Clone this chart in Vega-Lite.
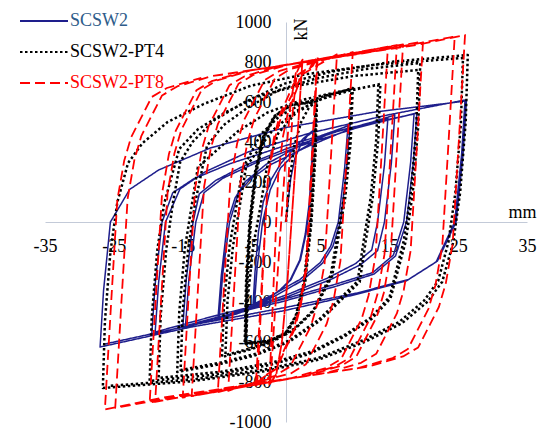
{
"$schema":"https://vega.github.io/schema/vega-lite/v6.json",
"width":482,"height":400,
"autosize":{"type":"none"},
"padding":{"left":45,"top":22,"right":12,"bottom":8},
"background":"white",
"config":{"view":{"stroke":null},"font":"Liberation Serif","axis":{"labelFont":"Liberation Serif","titleFont":"Liberation Serif"},"legend":{"labelFont":"Liberation Serif"}},
"data":{"values":[
{"s":"SCSW2","x":0,"y":0},{"s":"SCSW2","x":0.3,"y":100},{"s":"SCSW2","x":0.7,"y":220},{"s":"SCSW2","x":1.3,"y":320},{"s":"SCSW2","x":2.2,"y":390},{"s":"SCSW2","x":3.1,"y":430},{"s":"SCSW2","x":3.9,"y":450},
{"s":"SCSW2","x":3.7,"y":280},{"s":"SCSW2","x":3.4,"y":100},{"s":"SCSW2","x":2.8,"y":-60},{"s":"SCSW2","x":2.0,"y":-190},{"s":"SCSW2","x":0.6,"y":-290},{"s":"SCSW2","x":-0.9,"y":-340},{"s":"SCSW2","x":-2.8,"y":-390},{"s":"SCSW2","x":-4.8,"y":-420},
{"s":"SCSW2","x":-4.5,"y":-250},{"s":"SCSW2","x":-4.0,"y":-50},{"s":"SCSW2","x":-3.3,"y":100},{"s":"SCSW2","x":-2.2,"y":210},{"s":"SCSW2","x":-0.8,"y":290},{"s":"SCSW2","x":1.0,"y":360},{"s":"SCSW2","x":2.6,"y":420},{"s":"SCSW2","x":4.0,"y":460},
{"s":"SCSW2","x":3.8,"y":280},{"s":"SCSW2","x":3.5,"y":100},{"s":"SCSW2","x":2.9,"y":-60},{"s":"SCSW2","x":2.1,"y":-190},{"s":"SCSW2","x":0.7,"y":-290},{"s":"SCSW2","x":-0.8,"y":-340},{"s":"SCSW2","x":-2.7,"y":-385},{"s":"SCSW2","x":-4.6,"y":-415},
{"s":"SCSW2","x":-4.2,"y":-230},{"s":"SCSW2","x":-3.4,"y":0},{"s":"SCSW2","x":-2.3,"y":160},{"s":"SCSW2","x":-0.8,"y":270},{"s":"SCSW2","x":1.5,"y":350},{"s":"SCSW2","x":4.5,"y":410},{"s":"SCSW2","x":7.0,"y":455},{"s":"SCSW2","x":9.3,"y":485},
{"s":"SCSW2","x":8.8,"y":267},{"s":"SCSW2","x":7.9,"y":0},{"s":"SCSW2","x":6.8,"y":-122},{"s":"SCSW2","x":5.3,"y":-206},{"s":"SCSW2","x":2.3,"y":-294},{"s":"SCSW2","x":-1.7,"y":-372},{"s":"SCSW2","x":-5.7,"y":-441},{"s":"SCSW2","x":-9.9,"y":-490},
{"s":"SCSW2","x":-9.4,"y":-270},{"s":"SCSW2","x":-8.5,"y":0},{"s":"SCSW2","x":-7.4,"y":120},{"s":"SCSW2","x":-5.9,"y":202},{"s":"SCSW2","x":-2.9,"y":288},{"s":"SCSW2","x":1.1,"y":365},{"s":"SCSW2","x":5.1,"y":432},{"s":"SCSW2","x":9.0,"y":480},
{"s":"SCSW2","x":8.5,"y":264},{"s":"SCSW2","x":7.6,"y":0},{"s":"SCSW2","x":6.5,"y":-120},{"s":"SCSW2","x":5.0,"y":-202},{"s":"SCSW2","x":2.0,"y":-288},{"s":"SCSW2","x":-2.0,"y":-365},{"s":"SCSW2","x":-6.0,"y":-432},{"s":"SCSW2","x":-9.7,"y":-480},
{"s":"SCSW2","x":-9.2,"y":-264},{"s":"SCSW2","x":-8.2,"y":0},{"s":"SCSW2","x":-6.9,"y":144},{"s":"SCSW2","x":-5.2,"y":214},{"s":"SCSW2","x":-2.1,"y":289},{"s":"SCSW2","x":3.0,"y":375},{"s":"SCSW2","x":9.3,"y":465},{"s":"SCSW2","x":15.8,"y":535},
{"s":"SCSW2","x":15.3,"y":294},{"s":"SCSW2","x":14.3,"y":0},{"s":"SCSW2","x":13.3,"y":-143},{"s":"SCSW2","x":10.9,"y":-212},{"s":"SCSW2","x":6.6,"y":-286},{"s":"SCSW2","x":0.4,"y":-371},{"s":"SCSW2","x":-7.3,"y":-461},{"s":"SCSW2","x":-15.0,"y":-530},
{"s":"SCSW2","x":-14.5,"y":-292},{"s":"SCSW2","x":-13.5,"y":0},{"s":"SCSW2","x":-12.6,"y":140},{"s":"SCSW2","x":-10.2,"y":208},{"s":"SCSW2","x":-6.1,"y":281},{"s":"SCSW2","x":-0.1,"y":364},{"s":"SCSW2","x":7.4,"y":452},{"s":"SCSW2","x":14.8,"y":520},
{"s":"SCSW2","x":14.3,"y":286},{"s":"SCSW2","x":13.3,"y":0},{"s":"SCSW2","x":12.45,"y":-140},{"s":"SCSW2","x":10.1,"y":-208},{"s":"SCSW2","x":6.0,"y":-281},{"s":"SCSW2","x":0.1,"y":-364},{"s":"SCSW2","x":-7.2,"y":-452},{"s":"SCSW2","x":-14.6,"y":-520},
{"s":"SCSW2","x":-14.1,"y":-286},{"s":"SCSW2","x":-13.1,"y":0},{"s":"SCSW2","x":-11.9,"y":147},{"s":"SCSW2","x":-9.2,"y":218},{"s":"SCSW2","x":-4.5,"y":294},{"s":"SCSW2","x":2.2,"y":382},{"s":"SCSW2","x":10.6,"y":474},{"s":"SCSW2","x":19.0,"y":545},
{"s":"SCSW2","x":18.5,"y":300},{"s":"SCSW2","x":17.5,"y":0},{"s":"SCSW2","x":15.9,"y":-170},{"s":"SCSW2","x":12.8,"y":-260},{"s":"SCSW2","x":7.4,"y":-320},{"s":"SCSW2","x":-0.3,"y":-396},{"s":"SCSW2","x":-9.9,"y":-475},{"s":"SCSW2","x":-19.5,"y":-565},
{"s":"SCSW2","x":-19.0,"y":-311},{"s":"SCSW2","x":-18.0,"y":0},{"s":"SCSW2","x":-16.45,"y":146},{"s":"SCSW2","x":-13.4,"y":216},{"s":"SCSW2","x":-8.1,"y":292},{"s":"SCSW2","x":-0.45,"y":378},{"s":"SCSW2","x":9.1,"y":470},{"s":"SCSW2","x":18.6,"y":540},
{"s":"SCSW2","x":18.1,"y":297},{"s":"SCSW2","x":17.1,"y":0},{"s":"SCSW2","x":15.6,"y":-165},{"s":"SCSW2","x":12.6,"y":-253},{"s":"SCSW2","x":7.3,"y":-310},{"s":"SCSW2","x":-0.2,"y":-385},{"s":"SCSW2","x":-9.6,"y":-462},{"s":"SCSW2","x":-19.0,"y":-550},
{"s":"SCSW2","x":-18.5,"y":-303},{"s":"SCSW2","x":-17.5,"y":0},{"s":"SCSW2","x":-15.4,"y":165},{"s":"SCSW2","x":-11.8,"y":250},{"s":"SCSW2","x":-5.5,"y":350},{"s":"SCSW2","x":3.5,"y":445},{"s":"SCSW2","x":14.75,"y":535},{"s":"SCSW2","x":26.0,"y":610},
{"s":"SCSW2","x":25.5,"y":336},{"s":"SCSW2","x":24.5,"y":0},{"s":"SCSW2","x":21.8,"y":-200},{"s":"SCSW2","x":17.5,"y":-294},{"s":"SCSW2","x":10.1,"y":-363},{"s":"SCSW2","x":-0.5,"y":-445},{"s":"SCSW2","x":-13.75,"y":-525},{"s":"SCSW2","x":-27.0,"y":-625},
{"s":"SCSW2","x":-26.5,"y":-344},{"s":"SCSW2","x":-25.5,"y":0},{"s":"SCSW2","x":-22.7,"y":163},{"s":"SCSW2","x":-18.5,"y":260},{"s":"SCSW2","x":-11.0,"y":370},{"s":"SCSW2","x":-0.4,"y":470},{"s":"SCSW2","x":12.9,"y":550},{"s":"SCSW2","x":26.2,"y":605},
{"s":"SCSW2","x":25.7,"y":333},{"s":"SCSW2","x":24.7,"y":0},{"s":"SCSW2","x":22.0,"y":-195},{"s":"SCSW2","x":17.8,"y":-287},{"s":"SCSW2","x":10.45,"y":-354},{"s":"SCSW2","x":-0.05,"y":-427},{"s":"SCSW2","x":-13.2,"y":-512},{"s":"SCSW2","x":-26.3,"y":-610},

{"s":"SCSW2-PT4","x":0,"y":0},{"s":"SCSW2-PT4","x":0.5,"y":200},{"s":"SCSW2-PT4","x":1.2,"y":380},{"s":"SCSW2-PT4","x":2.2,"y":500},{"s":"SCSW2-PT4","x":3.3,"y":570},{"s":"SCSW2-PT4","x":4.4,"y":605},
{"s":"SCSW2-PT4","x":4.2,"y":350},{"s":"SCSW2-PT4","x":3.6,"y":0},{"s":"SCSW2-PT4","x":2.7,"y":-300},{"s":"SCSW2-PT4","x":1.5,"y":-470},{"s":"SCSW2-PT4","x":0,"y":-560},{"s":"SCSW2-PT4","x":-2.5,"y":-600},{"s":"SCSW2-PT4","x":-6.0,"y":-610},
{"s":"SCSW2-PT4","x":-5.8,"y":-300},{"s":"SCSW2-PT4","x":-5.3,"y":0},{"s":"SCSW2-PT4","x":-4.5,"y":250},{"s":"SCSW2-PT4","x":-3.3,"y":430},{"s":"SCSW2-PT4","x":-1.7,"y":530},{"s":"SCSW2-PT4","x":0.6,"y":585},{"s":"SCSW2-PT4","x":4.4,"y":610},
{"s":"SCSW2-PT4","x":4.2,"y":350},{"s":"SCSW2-PT4","x":3.6,"y":0},{"s":"SCSW2-PT4","x":2.7,"y":-300},{"s":"SCSW2-PT4","x":1.5,"y":-470},{"s":"SCSW2-PT4","x":0,"y":-555},{"s":"SCSW2-PT4","x":-2.5,"y":-595},{"s":"SCSW2-PT4","x":-5.8,"y":-605},
{"s":"SCSW2-PT4","x":-5.6,"y":-300},{"s":"SCSW2-PT4","x":-5.1,"y":0},{"s":"SCSW2-PT4","x":-4.3,"y":250},{"s":"SCSW2-PT4","x":-3.1,"y":430},{"s":"SCSW2-PT4","x":-1.5,"y":530},{"s":"SCSW2-PT4","x":0.8,"y":585},{"s":"SCSW2-PT4","x":4.5,"y":605},
{"s":"SCSW2-PT4","x":4.3,"y":350},{"s":"SCSW2-PT4","x":3.7,"y":0},{"s":"SCSW2-PT4","x":2.8,"y":-300},{"s":"SCSW2-PT4","x":1.6,"y":-470},{"s":"SCSW2-PT4","x":0.1,"y":-555},{"s":"SCSW2-PT4","x":-2.4,"y":-595},{"s":"SCSW2-PT4","x":-5.9,"y":-608},
{"s":"SCSW2-PT4","x":-5.7,"y":-300},{"s":"SCSW2-PT4","x":-5.2,"y":0},{"s":"SCSW2-PT4","x":-4.4,"y":250},{"s":"SCSW2-PT4","x":-3.2,"y":430},{"s":"SCSW2-PT4","x":-1.6,"y":530},{"s":"SCSW2-PT4","x":0.7,"y":585},{"s":"SCSW2-PT4","x":4.3,"y":600},
{"s":"SCSW2-PT4","x":4.1,"y":350},{"s":"SCSW2-PT4","x":3.5,"y":0},{"s":"SCSW2-PT4","x":2.6,"y":-300},{"s":"SCSW2-PT4","x":1.4,"y":-470},{"s":"SCSW2-PT4","x":-0.1,"y":-555},{"s":"SCSW2-PT4","x":-2.6,"y":-595},{"s":"SCSW2-PT4","x":-5.8,"y":-605},
{"s":"SCSW2-PT4","x":-5.5,"y":-363},{"s":"SCSW2-PT4","x":-4.7,"y":-109},{"s":"SCSW2-PT4","x":-3.7,"y":80},{"s":"SCSW2-PT4","x":-2.8,"y":268},{"s":"SCSW2-PT4","x":-1.15,"y":442},{"s":"SCSW2-PT4","x":1.18,"y":536},{"s":"SCSW2-PT4","x":3.81,"y":596},{"s":"SCSW2-PT4","x":6.6,"y":637},{"s":"SCSW2-PT4","x":9.7,"y":670},
{"s":"SCSW2-PT4","x":9.4,"y":402},{"s":"SCSW2-PT4","x":8.6,"y":121},{"s":"SCSW2-PT4","x":7.6,"y":-81},{"s":"SCSW2-PT4","x":6.7,"y":-270},{"s":"SCSW2-PT4","x":4.0,"y":-446},{"s":"SCSW2-PT4","x":1.15,"y":-540},{"s":"SCSW2-PT4","x":-2.08,"y":-601},{"s":"SCSW2-PT4","x":-5.5,"y":-641},{"s":"SCSW2-PT4","x":-9.3,"y":-675},
{"s":"SCSW2-PT4","x":-9.0,"y":-405},{"s":"SCSW2-PT4","x":-8.2,"y":-122},{"s":"SCSW2-PT4","x":-7.2,"y":80},{"s":"SCSW2-PT4","x":-6.3,"y":266},{"s":"SCSW2-PT4","x":-3.66,"y":439},{"s":"SCSW2-PT4","x":-0.84,"y":532},{"s":"SCSW2-PT4","x":2.36,"y":592},{"s":"SCSW2-PT4","x":5.74,"y":632},{"s":"SCSW2-PT4","x":9.5,"y":665},
{"s":"SCSW2-PT4","x":9.2,"y":399},{"s":"SCSW2-PT4","x":8.4,"y":120},{"s":"SCSW2-PT4","x":7.4,"y":-80},{"s":"SCSW2-PT4","x":6.5,"y":-266},{"s":"SCSW2-PT4","x":4.01,"y":-439},{"s":"SCSW2-PT4","x":1.26,"y":-532},{"s":"SCSW2-PT4","x":-1.85,"y":-592},{"s":"SCSW2-PT4","x":-5.14,"y":-632},{"s":"SCSW2-PT4","x":-8.8,"y":-665},
{"s":"SCSW2-PT4","x":-8.5,"y":-399},{"s":"SCSW2-PT4","x":-7.7,"y":-120},{"s":"SCSW2-PT4","x":-6.7,"y":83},{"s":"SCSW2-PT4","x":-5.8,"y":276},{"s":"SCSW2-PT4","x":-2.05,"y":455},{"s":"SCSW2-PT4","x":1.33,"y":552},{"s":"SCSW2-PT4","x":5.15,"y":614},{"s":"SCSW2-PT4","x":9.2,"y":656},{"s":"SCSW2-PT4","x":13.7,"y":690},
{"s":"SCSW2-PT4","x":13.4,"y":414},{"s":"SCSW2-PT4","x":12.6,"y":124},{"s":"SCSW2-PT4","x":11.6,"y":-90},{"s":"SCSW2-PT4","x":10.7,"y":-300},{"s":"SCSW2-PT4","x":4.85,"y":-495},{"s":"SCSW2-PT4","x":0.42,"y":-600},{"s":"SCSW2-PT4","x":-4.59,"y":-668},{"s":"SCSW2-PT4","x":-9.9,"y":-713},{"s":"SCSW2-PT4","x":-15.8,"y":-750},
{"s":"SCSW2-PT4","x":-15.5,"y":-450},{"s":"SCSW2-PT4","x":-14.7,"y":-135},{"s":"SCSW2-PT4","x":-13.7,"y":82},{"s":"SCSW2-PT4","x":-12.8,"y":274},{"s":"SCSW2-PT4","x":-7.04,"y":452},{"s":"SCSW2-PT4","x":-2.66,"y":548},{"s":"SCSW2-PT4","x":2.3,"y":610},{"s":"SCSW2-PT4","x":7.56,"y":651},{"s":"SCSW2-PT4","x":13.4,"y":685},
{"s":"SCSW2-PT4","x":13.1,"y":411},{"s":"SCSW2-PT4","x":12.3,"y":123},{"s":"SCSW2-PT4","x":11.3,"y":-89},{"s":"SCSW2-PT4","x":10.4,"y":-296},{"s":"SCSW2-PT4","x":4.79,"y":-488},{"s":"SCSW2-PT4","x":0.5,"y":-592},{"s":"SCSW2-PT4","x":-4.4,"y":-659},{"s":"SCSW2-PT4","x":-9.56,"y":-703},{"s":"SCSW2-PT4","x":-15.3,"y":-740},
{"s":"SCSW2-PT4","x":-15.0,"y":-444},{"s":"SCSW2-PT4","x":-14.2,"y":-133},{"s":"SCSW2-PT4","x":-13.2,"y":95},{"s":"SCSW2-PT4","x":-11.47,"y":382},{"s":"SCSW2-PT4","x":-9.04,"y":485},{"s":"SCSW2-PT4","x":-5.56,"y":572},{"s":"SCSW2-PT4","x":-1.03,"y":660},{"s":"SCSW2-PT4","x":4.19,"y":716},{"s":"SCSW2-PT4","x":11.15,"y":763},{"s":"SCSW2-PT4","x":19.5,"y":795},
{"s":"SCSW2-PT4","x":19.2,"y":477},{"s":"SCSW2-PT4","x":18.4,"y":143},{"s":"SCSW2-PT4","x":17.4,"y":-95},{"s":"SCSW2-PT4","x":15.18,"y":-382},{"s":"SCSW2-PT4","x":12.43,"y":-485},{"s":"SCSW2-PT4","x":8.5,"y":-572},{"s":"SCSW2-PT4","x":3.39,"y":-660},{"s":"SCSW2-PT4","x":-2.5,"y":-716},{"s":"SCSW2-PT4","x":-10.37,"y":-763},{"s":"SCSW2-PT4","x":-19.8,"y":-795},
{"s":"SCSW2-PT4","x":-19.5,"y":-477},{"s":"SCSW2-PT4","x":-18.7,"y":-143},{"s":"SCSW2-PT4","x":-17.7,"y":91},{"s":"SCSW2-PT4","x":-15.51,"y":365},{"s":"SCSW2-PT4","x":-12.78,"y":464},{"s":"SCSW2-PT4","x":-8.88,"y":547},{"s":"SCSW2-PT4","x":-3.81,"y":631},{"s":"SCSW2-PT4","x":2.04,"y":684},{"s":"SCSW2-PT4","x":9.84,"y":730},{"s":"SCSW2-PT4","x":19.2,"y":760},
{"s":"SCSW2-PT4","x":18.9,"y":456},{"s":"SCSW2-PT4","x":18.1,"y":137},{"s":"SCSW2-PT4","x":17.1,"y":-94},{"s":"SCSW2-PT4","x":15.05,"y":-374},{"s":"SCSW2-PT4","x":12.41,"y":-476},{"s":"SCSW2-PT4","x":8.64,"y":-562},{"s":"SCSW2-PT4","x":3.74,"y":-647},{"s":"SCSW2-PT4","x":-1.91,"y":-702},{"s":"SCSW2-PT4","x":-9.45,"y":-749},{"s":"SCSW2-PT4","x":-18.5,"y":-780},
{"s":"SCSW2-PT4","x":-18.2,"y":-468},{"s":"SCSW2-PT4","x":-17.4,"y":-140},{"s":"SCSW2-PT4","x":-16.4,"y":100},{"s":"SCSW2-PT4","x":-15.36,"y":301},{"s":"SCSW2-PT4","x":-13.56,"y":401},{"s":"SCSW2-PT4","x":-10.42,"y":509},{"s":"SCSW2-PT4","x":-5.93,"y":601},{"s":"SCSW2-PT4","x":-0.09,"y":693},{"s":"SCSW2-PT4","x":6.64,"y":752},{"s":"SCSW2-PT4","x":15.62,"y":802},{"s":"SCSW2-PT4","x":26.4,"y":835},
{"s":"SCSW2-PT4","x":26.1,"y":501},{"s":"SCSW2-PT4","x":25.3,"y":150},{"s":"SCSW2-PT4","x":24.3,"y":-100},{"s":"SCSW2-PT4","x":22.69,"y":-299},{"s":"SCSW2-PT4","x":20.57,"y":-398},{"s":"SCSW2-PT4","x":16.86,"y":-506},{"s":"SCSW2-PT4","x":11.56,"y":-598},{"s":"SCSW2-PT4","x":4.67,"y":-689},{"s":"SCSW2-PT4","x":-3.28,"y":-747},{"s":"SCSW2-PT4","x":-13.88,"y":-797},{"s":"SCSW2-PT4","x":-26.6,"y":-830},
{"s":"SCSW2-PT4","x":-26.3,"y":-498},{"s":"SCSW2-PT4","x":-25.5,"y":-149},{"s":"SCSW2-PT4","x":-24.5,"y":98},{"s":"SCSW2-PT4","x":-22.94,"y":295},{"s":"SCSW2-PT4","x":-20.85,"y":394},{"s":"SCSW2-PT4","x":-17.19,"y":500},{"s":"SCSW2-PT4","x":-11.96,"y":590},{"s":"SCSW2-PT4","x":-5.16,"y":681},{"s":"SCSW2-PT4","x":2.69,"y":738},{"s":"SCSW2-PT4","x":13.15,"y":787},{"s":"SCSW2-PT4","x":25.7,"y":820},
{"s":"SCSW2-PT4","x":25.4,"y":492},{"s":"SCSW2-PT4","x":24.6,"y":148},{"s":"SCSW2-PT4","x":23.6,"y":-98},{"s":"SCSW2-PT4","x":22.1,"y":-295},{"s":"SCSW2-PT4","x":20.03,"y":-394},{"s":"SCSW2-PT4","x":16.43,"y":-500},{"s":"SCSW2-PT4","x":11.28,"y":-590},{"s":"SCSW2-PT4","x":4.6,"y":-681},{"s":"SCSW2-PT4","x":-3.14,"y":-738},{"s":"SCSW2-PT4","x":-13.44,"y":-787},{"s":"SCSW2-PT4","x":-25.8,"y":-820},

{"s":"SCSW2-PT8","x":0,"y":0},{"s":"SCSW2-PT8","x":0.5,"y":300},{"s":"SCSW2-PT8","x":1.0,"y":560},{"s":"SCSW2-PT8","x":1.6,"y":750},{"s":"SCSW2-PT8","x":2.4,"y":812},
{"s":"SCSW2-PT8","x":1.8,"y":500},{"s":"SCSW2-PT8","x":1.0,"y":100},{"s":"SCSW2-PT8","x":0.2,"y":-300},{"s":"SCSW2-PT8","x":-0.6,"y":-600},{"s":"SCSW2-PT8","x":-1.4,"y":-760},{"s":"SCSW2-PT8","x":-2.3,"y":-812},
{"s":"SCSW2-PT8","x":-1.7,"y":-500},{"s":"SCSW2-PT8","x":-0.9,"y":-100},{"s":"SCSW2-PT8","x":-0.1,"y":300},{"s":"SCSW2-PT8","x":0.7,"y":600},{"s":"SCSW2-PT8","x":1.5,"y":760},{"s":"SCSW2-PT8","x":2.4,"y":812},
{"s":"SCSW2-PT8","x":1.8,"y":500},{"s":"SCSW2-PT8","x":1.0,"y":100},{"s":"SCSW2-PT8","x":0.2,"y":-300},{"s":"SCSW2-PT8","x":-0.6,"y":-600},{"s":"SCSW2-PT8","x":-1.4,"y":-760},{"s":"SCSW2-PT8","x":-2.4,"y":-812},
{"s":"SCSW2-PT8","x":-1.77,"y":-283},{"s":"SCSW2-PT8","x":-1.14,"y":232},{"s":"SCSW2-PT8","x":-0.44,"y":427},{"s":"SCSW2-PT8","x":0.26,"y":543},{"s":"SCSW2-PT8","x":1.17,"y":628},{"s":"SCSW2-PT8","x":2.36,"y":739},{"s":"SCSW2-PT8","x":3.9,"y":781},{"s":"SCSW2-PT8","x":4.6,"y":824},
{"s":"SCSW2-PT8","x":3.81,"y":295},{"s":"SCSW2-PT8","x":3.02,"y":-221},{"s":"SCSW2-PT8","x":2.14,"y":-418},{"s":"SCSW2-PT8","x":1.26,"y":-535},{"s":"SCSW2-PT8","x":0.11,"y":-621},{"s":"SCSW2-PT8","x":-1.38,"y":-734},{"s":"SCSW2-PT8","x":-3.32,"y":-778},{"s":"SCSW2-PT8","x":-4.2,"y":-822},
{"s":"SCSW2-PT8","x":-3.42,"y":-293},{"s":"SCSW2-PT8","x":-2.63,"y":223},{"s":"SCSW2-PT8","x":-1.76,"y":420},{"s":"SCSW2-PT8","x":-0.89,"y":537},{"s":"SCSW2-PT8","x":0.24,"y":623},{"s":"SCSW2-PT8","x":1.72,"y":736},{"s":"SCSW2-PT8","x":3.63,"y":780},{"s":"SCSW2-PT8","x":4.5,"y":823},
{"s":"SCSW2-PT8","x":3.70,"y":294},{"s":"SCSW2-PT8","x":2.90,"y":-222},{"s":"SCSW2-PT8","x":2.01,"y":-419},{"s":"SCSW2-PT8","x":1.12,"y":-535},{"s":"SCSW2-PT8","x":-0.04,"y":-622},{"s":"SCSW2-PT8","x":-1.55,"y":-735},{"s":"SCSW2-PT8","x":-3.51,"y":-779},{"s":"SCSW2-PT8","x":-4.4,"y":-823},
{"s":"SCSW2-PT8","x":-3.5,"y":-293},{"s":"SCSW2-PT8","x":-2.6,"y":223},{"s":"SCSW2-PT8","x":-1.6,"y":420},{"s":"SCSW2-PT8","x":-0.6,"y":538},{"s":"SCSW2-PT8","x":0.7,"y":625},{"s":"SCSW2-PT8","x":2.4,"y":739},{"s":"SCSW2-PT8","x":4.6,"y":784},{"s":"SCSW2-PT8","x":7.4,"y":838},
{"s":"SCSW2-PT8","x":6.5,"y":309},{"s":"SCSW2-PT8","x":5.6,"y":-208},{"s":"SCSW2-PT8","x":4.6,"y":-405},{"s":"SCSW2-PT8","x":3.6,"y":-522},{"s":"SCSW2-PT8","x":2.3,"y":-609},{"s":"SCSW2-PT8","x":0.6,"y":-723},{"s":"SCSW2-PT8","x":-1.6,"y":-769},{"s":"SCSW2-PT8","x":-8.4,"y":-844},
{"s":"SCSW2-PT8","x":-7.5,"y":-314},{"s":"SCSW2-PT8","x":-6.6,"y":202},{"s":"SCSW2-PT8","x":-5.6,"y":400},{"s":"SCSW2-PT8","x":-4.6,"y":517},{"s":"SCSW2-PT8","x":-3.3,"y":604},{"s":"SCSW2-PT8","x":-1.6,"y":718},{"s":"SCSW2-PT8","x":0.6,"y":764},{"s":"SCSW2-PT8","x":9.7,"y":850},
{"s":"SCSW2-PT8","x":8.8,"y":321},{"s":"SCSW2-PT8","x":7.9,"y":-196},{"s":"SCSW2-PT8","x":6.9,"y":-393},{"s":"SCSW2-PT8","x":5.9,"y":-510},{"s":"SCSW2-PT8","x":4.6,"y":-597},{"s":"SCSW2-PT8","x":2.9,"y":-711},{"s":"SCSW2-PT8","x":0.7,"y":-757},{"s":"SCSW2-PT8","x":-9.9,"y":-851},
{"s":"SCSW2-PT8","x":-9.0,"y":-322},{"s":"SCSW2-PT8","x":-8.1,"y":195},{"s":"SCSW2-PT8","x":-7.1,"y":392},{"s":"SCSW2-PT8","x":-6.1,"y":509},{"s":"SCSW2-PT8","x":-4.8,"y":596},{"s":"SCSW2-PT8","x":-3.1,"y":710},{"s":"SCSW2-PT8","x":-0.9,"y":756},{"s":"SCSW2-PT8","x":4.1,"y":805},{"s":"SCSW2-PT8","x":14.8,"y":877},
{"s":"SCSW2-PT8","x":13.9,"y":347},{"s":"SCSW2-PT8","x":13.0,"y":-169},{"s":"SCSW2-PT8","x":12.0,"y":-366},{"s":"SCSW2-PT8","x":11.0,"y":-483},{"s":"SCSW2-PT8","x":9.7,"y":-571},{"s":"SCSW2-PT8","x":8.0,"y":-685},{"s":"SCSW2-PT8","x":5.8,"y":-730},{"s":"SCSW2-PT8","x":0.8,"y":-781},{"s":"SCSW2-PT8","x":-13.7,"y":-871},
{"s":"SCSW2-PT8","x":-12.8,"y":-341},{"s":"SCSW2-PT8","x":-11.9,"y":175},{"s":"SCSW2-PT8","x":-10.9,"y":372},{"s":"SCSW2-PT8","x":-9.9,"y":489},{"s":"SCSW2-PT8","x":-8.6,"y":577},{"s":"SCSW2-PT8","x":-6.9,"y":691},{"s":"SCSW2-PT8","x":-4.7,"y":736},{"s":"SCSW2-PT8","x":0.3,"y":787},{"s":"SCSW2-PT8","x":16.1,"y":884},
{"s":"SCSW2-PT8","x":15.2,"y":354},{"s":"SCSW2-PT8","x":14.3,"y":-162},{"s":"SCSW2-PT8","x":13.3,"y":-359},{"s":"SCSW2-PT8","x":12.3,"y":-476},{"s":"SCSW2-PT8","x":11.0,"y":-564},{"s":"SCSW2-PT8","x":9.3,"y":-678},{"s":"SCSW2-PT8","x":7.1,"y":-723},{"s":"SCSW2-PT8","x":2.1,"y":-774},{"s":"SCSW2-PT8","x":-15.0,"y":-878},
{"s":"SCSW2-PT8","x":-14.1,"y":-348},{"s":"SCSW2-PT8","x":-13.2,"y":168},{"s":"SCSW2-PT8","x":-12.2,"y":365},{"s":"SCSW2-PT8","x":-11.2,"y":482},{"s":"SCSW2-PT8","x":-9.9,"y":570},{"s":"SCSW2-PT8","x":-8.2,"y":684},{"s":"SCSW2-PT8","x":-6.0,"y":729},{"s":"SCSW2-PT8","x":-1.0,"y":780},{"s":"SCSW2-PT8","x":17.0,"y":888},
{"s":"SCSW2-PT8","x":16.1,"y":358},{"s":"SCSW2-PT8","x":15.2,"y":-158},{"s":"SCSW2-PT8","x":14.2,"y":-355},{"s":"SCSW2-PT8","x":13.2,"y":-472},{"s":"SCSW2-PT8","x":11.9,"y":-560},{"s":"SCSW2-PT8","x":10.2,"y":-674},{"s":"SCSW2-PT8","x":8.0,"y":-719},{"s":"SCSW2-PT8","x":3.0,"y":-769},{"s":"SCSW2-PT8","x":-7.0,"y":-822},{"s":"SCSW2-PT8","x":-19.0,"y":-899},
{"s":"SCSW2-PT8","x":-18.1,"y":-369},{"s":"SCSW2-PT8","x":-17.2,"y":147},{"s":"SCSW2-PT8","x":-16.2,"y":344},{"s":"SCSW2-PT8","x":-15.2,"y":461},{"s":"SCSW2-PT8","x":-13.9,"y":549},{"s":"SCSW2-PT8","x":-12.2,"y":663},{"s":"SCSW2-PT8","x":-10.0,"y":708},{"s":"SCSW2-PT8","x":-5.0,"y":759},{"s":"SCSW2-PT8","x":5.0,"y":812},{"s":"SCSW2-PT8","x":19.9,"y":903},
{"s":"SCSW2-PT8","x":19.0,"y":373},{"s":"SCSW2-PT8","x":18.1,"y":-143},{"s":"SCSW2-PT8","x":17.1,"y":-340},{"s":"SCSW2-PT8","x":16.1,"y":-457},{"s":"SCSW2-PT8","x":14.8,"y":-545},{"s":"SCSW2-PT8","x":13.1,"y":-659},{"s":"SCSW2-PT8","x":10.9,"y":-704},{"s":"SCSW2-PT8","x":5.9,"y":-754},{"s":"SCSW2-PT8","x":-4.1,"y":-806},{"s":"SCSW2-PT8","x":-19.8,"y":-903},
{"s":"SCSW2-PT8","x":-18.9,"y":-373},{"s":"SCSW2-PT8","x":-18.0,"y":143},{"s":"SCSW2-PT8","x":-17.0,"y":340},{"s":"SCSW2-PT8","x":-16.0,"y":457},{"s":"SCSW2-PT8","x":-14.7,"y":545},{"s":"SCSW2-PT8","x":-13.0,"y":659},{"s":"SCSW2-PT8","x":-10.8,"y":704},{"s":"SCSW2-PT8","x":-5.8,"y":755},{"s":"SCSW2-PT8","x":4.2,"y":807},{"s":"SCSW2-PT8","x":14.2,"y":862},{"s":"SCSW2-PT8","x":24.5,"y":927},
{"s":"SCSW2-PT8","x":23.6,"y":397},{"s":"SCSW2-PT8","x":22.7,"y":-119},{"s":"SCSW2-PT8","x":21.7,"y":-316},{"s":"SCSW2-PT8","x":20.7,"y":-433},{"s":"SCSW2-PT8","x":19.4,"y":-521},{"s":"SCSW2-PT8","x":17.7,"y":-635},{"s":"SCSW2-PT8","x":15.5,"y":-680},{"s":"SCSW2-PT8","x":10.5,"y":-730},{"s":"SCSW2-PT8","x":0.5,"y":-782},{"s":"SCSW2-PT8","x":-9.5,"y":-834},{"s":"SCSW2-PT8","x":-24.8,"y":-929},
{"s":"SCSW2-PT8","x":-23.9,"y":-399},{"s":"SCSW2-PT8","x":-23.0,"y":117},{"s":"SCSW2-PT8","x":-22.0,"y":314},{"s":"SCSW2-PT8","x":-21.0,"y":431},{"s":"SCSW2-PT8","x":-19.7,"y":519},{"s":"SCSW2-PT8","x":-18.0,"y":633},{"s":"SCSW2-PT8","x":-15.8,"y":678},{"s":"SCSW2-PT8","x":-10.8,"y":729},{"s":"SCSW2-PT8","x":-0.8,"y":781},{"s":"SCSW2-PT8","x":9.2,"y":833},{"s":"SCSW2-PT8","x":19.2,"y":887},{"s":"SCSW2-PT8","x":26.0,"y":935},
{"s":"SCSW2-PT8","x":25.1,"y":405},{"s":"SCSW2-PT8","x":24.2,"y":-111},{"s":"SCSW2-PT8","x":23.2,"y":-308},{"s":"SCSW2-PT8","x":22.2,"y":-425},{"s":"SCSW2-PT8","x":20.9,"y":-513},{"s":"SCSW2-PT8","x":19.2,"y":-627},{"s":"SCSW2-PT8","x":17.0,"y":-672},{"s":"SCSW2-PT8","x":12.0,"y":-723},{"s":"SCSW2-PT8","x":2.0,"y":-775},{"s":"SCSW2-PT8","x":-8.0,"y":-827},{"s":"SCSW2-PT8","x":-18.0,"y":-879},{"s":"SCSW2-PT8","x":-26.3,"y":-937},
{"s":"SCSW2-PT8","x":-25.4,"y":-407},{"s":"SCSW2-PT8","x":-24.5,"y":109},{"s":"SCSW2-PT8","x":-23.5,"y":306},{"s":"SCSW2-PT8","x":-22.5,"y":423},{"s":"SCSW2-PT8","x":-21.2,"y":511},{"s":"SCSW2-PT8","x":-19.5,"y":625},{"s":"SCSW2-PT8","x":-17.3,"y":670},{"s":"SCSW2-PT8","x":-12.3,"y":721}
]},
"encoding":{
"x":{"field":"x","type":"quantitative","scale":{"domain":[-35,35],"nice":false,"zero":false},
 "axis":{"orient":"bottom","offset":-200,"values":[-35,-25,-15,-5,5,15,25,35],"labelExpr":"'' + datum.value","ticks":false,"tickSize":0,"grid":false,"domainColor":"#c3cad8","domainWidth":1,"labelFont":"Liberation Serif","labelFontSize":18,"labelColor":"#000000","labelPadding":15,"labelFlush":false,"labelOverlap":false,"title":"mm","titleFont":"Liberation Serif","titleFontSize":18,"titleFontWeight":"normal","titleColor":"#000000","titleX":477,"titleY":-10,"titleAlign":"center","titleBaseline":"middle","titleAngle":0}},
"y":{"field":"y","type":"quantitative","scale":{"domain":[-1000,1000],"nice":false,"zero":false},
 "axis":{"orient":"left","offset":-241,"values":[-1000,-800,-600,-400,-200,0,200,400,600,800,1000],"labelExpr":"'' + datum.value","ticks":false,"tickSize":0,"grid":false,"domainColor":"#c3cad8","domainWidth":1,"labelFont":"Liberation Serif","labelFontSize":18,"labelColor":"#000000","labelPadding":15,"labelFlush":false,"labelOverlap":false,"title":"kN","titleFont":"Liberation Serif","titleFontSize":18,"titleFontWeight":"normal","titleColor":"#000000","titleX":15,"titleY":7,"titleAlign":"center","titleBaseline":"middle","titleAngle":-90}},
"color":{"field":"s","type":"nominal","scale":{"domain":["SCSW2","SCSW2-PT4","SCSW2-PT8"],"range":["#1e1e8c","#000000","#ff0000"]},
 "legend":{"title":null,"orient":"none","legendX":-10,"legendY":-10,"symbolType":"M-24,0H24","symbolSize":4,"symbolStrokeWidth":2,"labelFont":"Liberation Serif","labelFontSize":18,"labelOffset":17,"rowPadding":13,"padding":0,"labelLimit":300,
  "encoding":{"labels":{"fill":{"condition":[{"test":"datum.value === 'SCSW2'","value":"#2e5c8a"},{"test":"datum.value === 'SCSW2-PT8'","value":"#ff0000"}],"value":"#000000"}}}}},
"strokeDash":{"field":"s","type":"nominal","scale":{"domain":["SCSW2","SCSW2-PT4","SCSW2-PT8"],"range":[[1,0],[2.5,2.5],[10,5]]},
 "legend":{"title":null,"orient":"none","legendX":-10,"legendY":-10,"symbolType":"M-24,0H24","symbolSize":4,"symbolStrokeWidth":2,"labelFont":"Liberation Serif","labelFontSize":18,"labelOffset":17,"rowPadding":13,"padding":0,"labelLimit":300,
  "encoding":{"labels":{"fill":{"condition":[{"test":"datum.value === 'SCSW2'","value":"#2e5c8a"},{"test":"datum.value === 'SCSW2-PT8'","value":"#ff0000"}],"value":"#000000"}}}}},
"order":{"value":null}
},
"layer":[
{"transform":[{"filter":"datum.s === 'SCSW2'"}],"mark":{"type":"line","strokeWidth":1.5,"strokeJoin":"round"}},
{"transform":[{"filter":"datum.s === 'SCSW2-PT4'"}],"mark":{"type":"line","strokeWidth":2.5,"strokeJoin":"round"}},
{"transform":[{"filter":"datum.s === 'SCSW2-PT8'"}],"mark":{"type":"line","strokeWidth":1.8,"strokeJoin":"round"}}
]
}
